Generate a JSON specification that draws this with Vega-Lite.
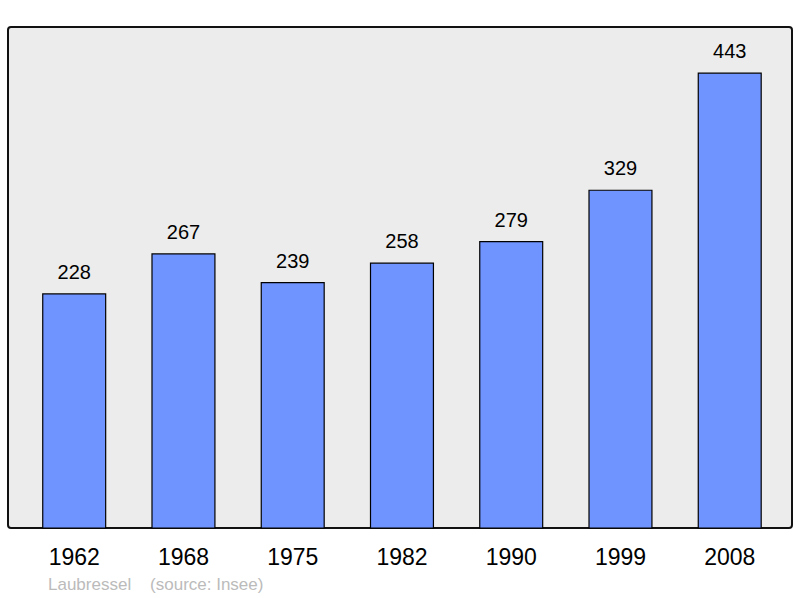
{
  "$schema": "https://vega.github.io/schema/vega-lite/v6.json",
  "autosize": {"type": "none"},
  "padding": {"left": 8, "top": 27, "right": 8, "bottom": 70},
  "width": 784,
  "height": 501,
  "background": "white",
  "config": {
    "view": {"fill": "#ececec", "stroke": "#111111", "strokeWidth": 2, "cornerRadius": 3},
    "font": "Liberation Sans"
  },
  "title": {
    "text": "Laubressel\u00a0\u00a0\u00a0\u00a0(source: Insee)",
    "orient": "bottom",
    "anchor": "start",
    "offset": 8,
    "dx": 40,
    "fontSize": 17,
    "fontWeight": "normal",
    "color": "#bbbbbb",
    "font": "Liberation Sans"
  },
  "data": {
    "values": [
      {"year": "1962", "pop": 228},
      {"year": "1968", "pop": 267},
      {"year": "1975", "pop": 239},
      {"year": "1982", "pop": 258},
      {"year": "1990", "pop": 279},
      {"year": "1999", "pop": 329},
      {"year": "2008", "pop": 443}
    ]
  },
  "encoding": {
    "x": {
      "field": "year", "type": "nominal", "sort": null,
      "scale": {"paddingInner": 0.424, "paddingOuter": 0.3, "align": 0.53},
      "axis": {"title": null, "labelAngle": 0, "ticks": false, "domain": false, "labelFontSize": 23, "labelColor": "#000000", "labelPadding": 18, "labelFont": "Liberation Sans"}
    },
    "y": {
      "field": "pop", "type": "quantitative",
      "scale": {"domain": [0, 488], "nice": false},
      "axis": null
    }
  },
  "layer": [
    {"mark": {"type": "bar", "fill": "#7094ff", "stroke": "#000000", "strokeWidth": 1.2}},
    {"mark": {"type": "text", "baseline": "alphabetic", "dy": -15, "fontSize": 20, "color": "#000000"},
     "encoding": {"text": {"field": "pop", "type": "quantitative"}}}
  ]
}
